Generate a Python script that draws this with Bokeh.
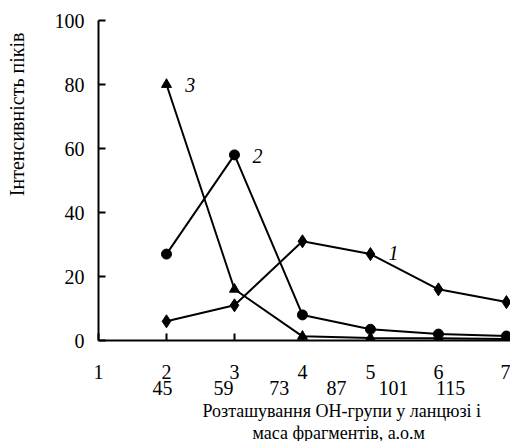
from bokeh.plotting import figure
from bokeh.models import Label, FixedTicker, Range1d, LinearAxis, Title
from bokeh.embed import file_html
from bokeh.resources import INLINE

positions = [2, 3, 4, 5, 6, 7]
series1 = [6, 11, 31, 27, 16, 12]
series2 = [27, 58, 8, 3.5, 2, 1.4]
series3 = [80, 16, 1.3, 0.8, 0.7, 0.5]
x_tick_labels = ["1", "2", "3", "4", "5", "6", "7"]
mass_labels = ["45", "59", "73", "87", "101", "115"]
mass_positions = [1.94, 2.84, 3.66, 4.5, 5.34, 6.18]
y_ticks = [0, 20, 40, 60, 80, 100]

FONT = "Liberation Serif"

p = figure(width=510, height=441, output_backend="svg", toolbar_location=None,
           x_range=Range1d(1, 7.06), y_range=Range1d(0, 100),
           min_border_left=98, min_border_right=0, min_border_top=20,
           min_border_bottom=101)
p.outline_line_color = None
p.grid.visible = False
p.background_fill_color = "white"
p.border_fill_color = "white"

for ax in (p.xaxis[0], p.yaxis[0]):
    ax.axis_line_width = 2
    ax.axis_line_color = "black"
    ax.major_tick_line_width = 2
    ax.major_tick_line_color = "black"
    ax.major_tick_in = 7
    ax.major_tick_out = 0
    ax.minor_tick_line_color = None
    ax.major_label_text_font = FONT
    ax.major_label_text_font_size = "20px"
    ax.major_label_text_color = "black"

p.xaxis.ticker = FixedTicker(ticks=list(range(1, 8)))
p.xaxis.major_label_overrides = {i + 1: t for i, t in enumerate(x_tick_labels)}
p.xaxis.major_label_standoff = 24
p.yaxis.ticker = FixedTicker(ticks=y_ticks)
p.yaxis.major_label_standoff = 14
# spacer label to push the y title outward
p.yaxis.axis_label = " "
p.yaxis.axis_label_text_font_size = "10px"
p.yaxis.axis_label_standoff = 9

# second row of x labels: fragment masses
mass_axis = LinearAxis(ticker=FixedTicker(ticks=mass_positions),
                       major_label_overrides={m: t for m, t in zip(mass_positions, mass_labels)},
                       axis_line_color=None, major_tick_line_color=None,
                       minor_tick_line_color=None, major_label_standoff=-7,
                       major_label_text_font=FONT, major_label_text_font_size="20px",
                       major_label_text_color="black")
p.add_layout(mass_axis, "below")

lw = 2
p.line(positions, series1, line_color="black", line_width=lw)
p.scatter(positions, series1, marker="diamond", size=13, color="black")
p.line(positions, series2, line_color="black", line_width=lw)
p.scatter(positions, series2, marker="circle", size=10, color="black")
p.line(positions, series3, line_color="black", line_width=lw)
p.scatter(positions, series3, marker="triangle", size=10, color="black")

# series labels
for t, x, y in [("3", 2.35, 79.7), ("2", 3.34, 57.8), ("1", 5.34, 27.2)]:
    p.add_layout(Label(x=x, y=y, text=t, text_font=FONT, text_font_style="italic",
                       text_font_size="20px", text_align="center",
                       text_baseline="middle", text_color="black"))

# axis titles
t1 = Title(text="Розташування ОН-групи у ланцюзі і", align="left", offset=104,
           text_font=FONT, text_font_size="18px", text_font_style="normal",
           standoff=2, text_color="black")
t2 = Title(text="маса фрагментів, а.о.м", align="left", offset=154,
           text_font=FONT, text_font_size="18px", text_font_style="normal",
           standoff=-2, text_color="black")
p.add_layout(t1, "below")
p.add_layout(t2, "below")

ty = Title(text="Інтенсивність піків", align="right", offset=12,
           text_font=FONT, text_font_size="20px", text_font_style="normal",
           standoff=0, text_color="black", vertical_align="middle")
p.add_layout(ty, "left")

open("out.html", "w").write(file_html(p, INLINE))
